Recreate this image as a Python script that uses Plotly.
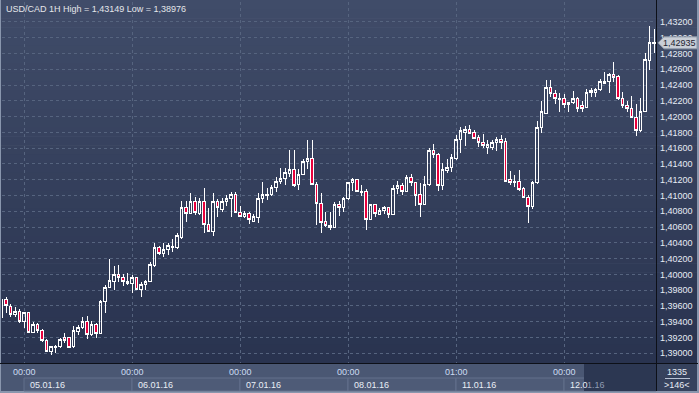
import plotly.graph_objects as go

# ---------------- data ----------------
title_text = "USD/CAD 1H High = 1,43149 Low = 1,38976"

open_ = [1.39448, 1.39688, 1.39587, 1.39498, 1.39524, 1.39397, 1.39511, 1.39270, 1.39371, 1.39295,
         1.39156, 1.39029, 1.39068, 1.39080, 1.39194, 1.39194, 1.39080, 1.39282, 1.39333, 1.39409,
         1.39232, 1.39359, 1.39253, 1.39651, 1.39840, 1.39916, 1.40005, 1.39955, 1.39916, 1.39891,
         1.39955, 1.39815, 1.39878, 1.39904, 1.40107, 1.40335, 1.40271, 1.40322, 1.40360, 1.40335,
         1.40474, 1.40842, 1.40778, 1.40918, 1.40778, 1.40930, 1.40627, 1.40550, 1.40918, 1.40829,
         1.40918, 1.40956, 1.41019, 1.40791, 1.40740, 1.40778, 1.40677, 1.40727, 1.40956, 1.40994,
         1.41019, 1.41100, 1.41172, 1.41210, 1.41285, 1.41336, 1.41134, 1.41268, 1.41437, 1.41475,
         1.41146, 1.40905, 1.40665, 1.40621, 1.40595, 1.40880, 1.40842, 1.40956, 1.41159, 1.41197,
         1.41057, 1.41045, 1.40702, 1.40880, 1.40765, 1.40804, 1.40842, 1.40765, 1.41083, 1.41121,
         1.41057, 1.41234, 1.41159, 1.41007, 1.40892, 1.41134, 1.41577, 1.41526, 1.41121, 1.41323,
         1.41353, 1.41463, 1.41704, 1.41805, 1.41843, 1.41805, 1.41735, 1.41666, 1.41615, 1.41615,
         1.41666, 1.41716, 1.41691, 1.41197, 1.41184, 1.41184, 1.41083, 1.40981, 1.40867, 1.41159,
         1.41868, 1.42046, 1.42363, 1.42299, 1.42223, 1.42236, 1.42160, 1.42173, 1.42236, 1.42135,
         1.42122, 1.42300, 1.42305, 1.42346, 1.42426, 1.42439, 1.42528, 1.42506, 1.42236, 1.42147,
         1.42109, 1.41995, 1.41830, 1.42071, 1.42709, 1.42925]
high = [1.39701, 1.39713, 1.39625, 1.39587, 1.39562, 1.39524, 1.39515, 1.39397, 1.39384, 1.39308,
        1.39181, 1.39093, 1.39106, 1.39194, 1.39257, 1.39206, 1.39346, 1.39359, 1.39460, 1.39473,
        1.39409, 1.39384, 1.39676, 1.39866, 1.40195, 1.40107, 1.40120, 1.40005, 1.40018, 1.39993,
        1.39967, 1.39904, 1.39929, 1.40158, 1.40398, 1.40360, 1.40398, 1.40398, 1.40449, 1.40525,
        1.40930, 1.40930, 1.41032, 1.40981, 1.40968, 1.41096, 1.40842, 1.41032, 1.40956, 1.40968,
        1.41007, 1.41045, 1.41045, 1.40867, 1.40804, 1.40791, 1.40765, 1.41032, 1.41172, 1.41096,
        1.41134, 1.41234, 1.41349, 1.41353, 1.41577, 1.41577, 1.41336, 1.41463, 1.41704, 1.41704,
        1.41172, 1.41032, 1.40791, 1.40791, 1.40918, 1.40930, 1.40981, 1.41172, 1.41222, 1.41210,
        1.41134, 1.41083, 1.40892, 1.40892, 1.40842, 1.40867, 1.40854, 1.41134, 1.41184, 1.41159,
        1.41260, 1.41272, 1.41172, 1.41159, 1.41247, 1.41602, 1.41653, 1.41538, 1.41412, 1.41463,
        1.41526, 1.41767, 1.41868, 1.41881, 1.41894, 1.41830, 1.41767, 1.41780, 1.41704, 1.41704,
        1.41741, 1.41767, 1.41729, 1.41310, 1.41260, 1.41323, 1.41108, 1.41007, 1.41184, 1.41944,
        1.42198, 1.42464, 1.42464, 1.42337, 1.42299, 1.42287, 1.42180, 1.42325, 1.42249, 1.42198,
        1.42350, 1.42363, 1.42368, 1.42477, 1.42566, 1.42553, 1.42692, 1.42528, 1.42312, 1.42198,
        1.42261, 1.42160, 1.42236, 1.42806, 1.43149, 1.43110]
low = [1.39409, 1.39511, 1.39460, 1.39460, 1.39384, 1.39321, 1.39257, 1.39257, 1.39253, 1.39144,
       1.39017, 1.38976, 1.39004, 1.39068, 1.39131, 1.39064, 1.39068, 1.39232, 1.39308, 1.39181,
       1.39219, 1.39194, 1.39245, 1.39511, 1.39827, 1.39802, 1.39904, 1.39853, 1.39866, 1.39764,
       1.39802, 1.39713, 1.39802, 1.39900, 1.40094, 1.40246, 1.40220, 1.40246, 1.40284, 1.40322,
       1.40449, 1.40665, 1.40765, 1.40753, 1.40753, 1.40525, 1.40538, 1.40487, 1.40728, 1.40791,
       1.40867, 1.40727, 1.40778, 1.40727, 1.40720, 1.40640, 1.40665, 1.40652, 1.40905, 1.40943,
       1.40994, 1.41045, 1.41146, 1.41134, 1.41234, 1.41108, 1.41070, 1.41260, 1.41336, 1.41134,
       1.40627, 1.40525, 1.40601, 1.40563, 1.40589, 1.40740, 1.40791, 1.40943, 1.41057, 1.41045,
       1.40994, 1.40563, 1.40690, 1.40727, 1.40753, 1.40765, 1.40715, 1.40753, 1.41019, 1.41007,
       1.41045, 1.41121, 1.40867, 1.40727, 1.40880, 1.41121, 1.41475, 1.41057, 1.41070, 1.41285,
       1.41298, 1.41450, 1.41538, 1.41628, 1.41780, 1.41716, 1.41615, 1.41602, 1.41526, 1.41577,
       1.41564, 1.41589, 1.41172, 1.41134, 1.41108, 1.41057, 1.40968, 1.40652, 1.40829, 1.41146,
       1.41792, 1.42033, 1.42249, 1.42160, 1.42059, 1.42109, 1.42059, 1.42160, 1.42059, 1.42059,
       1.42109, 1.42249, 1.42249, 1.42325, 1.42414, 1.42299, 1.42439, 1.42211, 1.42109, 1.42059,
       1.41983, 1.41754, 1.41805, 1.42059, 1.42591, 1.42802]
close = [1.39676, 1.39600, 1.39498, 1.39536, 1.39397, 1.39511, 1.39270, 1.39371, 1.39295, 1.39156,
         1.39029, 1.39080, 1.39080, 1.39169, 1.39156, 1.39068, 1.39295, 1.39321, 1.39397, 1.39232,
         1.39359, 1.39257, 1.39651, 1.39840, 1.39929, 1.40005, 1.39955, 1.39916, 1.39891, 1.39955,
         1.39815, 1.39878, 1.39916, 1.40120, 1.40335, 1.40271, 1.40322, 1.40372, 1.40335, 1.40487,
         1.40854, 1.40778, 1.40918, 1.40791, 1.40918, 1.40627, 1.40550, 1.40918, 1.40842, 1.40918,
         1.40956, 1.41019, 1.40791, 1.40740, 1.40778, 1.40690, 1.40740, 1.40956, 1.41019, 1.41019,
         1.41108, 1.41172, 1.41222, 1.41298, 1.41336, 1.41121, 1.41272, 1.41437, 1.41475, 1.41146,
         1.40905, 1.40652, 1.40621, 1.40595, 1.40880, 1.40842, 1.40968, 1.41159, 1.41197, 1.41057,
         1.41032, 1.40702, 1.40880, 1.40778, 1.40816, 1.40842, 1.40765, 1.41083, 1.41121, 1.41057,
         1.41234, 1.41159, 1.40994, 1.40892, 1.41146, 1.41577, 1.41526, 1.41121, 1.41336, 1.41361,
         1.41488, 1.41716, 1.41818, 1.41843, 1.41792, 1.41729, 1.41666, 1.41628, 1.41653, 1.41666,
         1.41716, 1.41678, 1.41184, 1.41159, 1.41159, 1.41070, 1.40981, 1.40867, 1.41159, 1.41868,
         1.42059, 1.42363, 1.42299, 1.42236, 1.42236, 1.42160, 1.42173, 1.42236, 1.42109, 1.42109,
         1.42312, 1.42325, 1.42350, 1.42439, 1.42439, 1.42528, 1.42502, 1.42236, 1.42135, 1.42109,
         1.41995, 1.41830, 1.42071, 1.42718, 1.42946, 1.42935]

bar_index = list(range(len(close)))

grid_index = [5, 29, 53, 77, 101, 125]
grid_time = ["00:00", "00:00", "00:00", "00:00", "01:00", "00:00"]
date_labels = ["05.01.16", "06.01.16", "07.01.16", "08.01.16", "11.01.16", "12.01.16"]

y_ticks = [1.390, 1.392, 1.394, 1.396, 1.398, 1.400, 1.402, 1.404, 1.406, 1.408, 1.410,
           1.412, 1.414, 1.416, 1.418, 1.420, 1.422, 1.424, 1.426, 1.428, 1.430, 1.432]
y_tick_text = [f"{v:.5f}".replace(".", ",") for v in y_ticks]

counter_top = "1335"
counter_bottom = ">146<"

# ---------------- layout helpers ----------------
W, H = 699, 393
ML, MR, MT, MB = 2, 43, 2, 30
PW = W - ML - MR
PH = H - MT - MB
X_RANGE = [0.11, 145.44]
Y_RANGE = [1.38877, 1.43453]
FONT = "Liberation Sans, Arial, sans-serif"


def px(x):
    return (x - ML) / PW


def py(y):
    return (H - MB - y) / PH


def xi_px(i):
    return ML + (i - X_RANGE[0]) / (X_RANGE[1] - X_RANGE[0]) * PW


def hexc(c):
    return "#%02x%02x%02x" % tuple(int(round(v)) for v in c)


shapes = []


def rect(x0, y0, x1, y1, fill, line=None, lw=0, layer="below"):
    shapes.append(dict(type="rect", xref="paper", yref="paper",
                       x0=px(x0), x1=px(x1), y0=py(y1), y1=py(y0),
                       fillcolor=fill, layer=layer,
                       line=dict(width=lw, color=line or fill)))


def hline(x0, x1, y, color, w=1, layer="below"):
    shapes.append(dict(type="line", xref="paper", yref="paper",
                       x0=px(x0), x1=px(x1), y0=py(y), y1=py(y),
                       line=dict(color=color, width=w), layer=layer))


def vline(x, y0, y1, color, w=1, layer="below"):
    shapes.append(dict(type="line", xref="paper", yref="paper",
                       x0=px(x), x1=px(x), y0=py(y0), y1=py(y1),
                       line=dict(color=color, width=w), layer=layer))


# gradient background of chart + price panel
top_c = (0x40, 0x4c, 0x69)
bot_c = (0x29, 0x33, 0x4f)
nb = 40
for k in range(nb):
    t = (k + 0.5) / nb
    col = hexc([top_c[j] + (bot_c[j] - top_c[j]) * t for j in range(3)])
    y0 = 363 * k / nb
    y1 = 363 * (k + 1) / nb + 0.6
    rect(1, y0, 697, y1, col)

# time axis strip
rect(1, 364, 656, 391, "#4a5773")
# counter box
rect(657, 364, 697, 391, "#36425d")
# date boxes
edges = [xi_px(i) for i in grid_index] + [656]
for k in range(len(grid_index)):
    rect(edges[k], 378, edges[k + 1], 391, "#4e5b77", line="#63718c", lw=1)
# dark scroll region
rect(584, 364, 656, 391, "#2c3752")
# separators
hline(0, 698, 363.5, "#0d1018", 1)
vline(656.5, 0, 391, "#0d1018", 1)
hline(665, 690, 378.5, "#b8c2d4", 1)

annotations = [
    dict(text=title_text, xref="paper", yref="paper", x=px(4), y=py(9),
         xanchor="left", yanchor="middle", showarrow=False,
         font=dict(family=FONT, size=9, color="#e4e6ea")),
    dict(text=counter_top, xref="paper", yref="paper", x=px(677.5), y=py(372),
         xanchor="center", yanchor="middle", showarrow=False,
         font=dict(family=FONT, size=9, color="#e8edf5")),
    dict(text=counter_bottom, xref="paper", yref="paper", x=px(677.5), y=py(385),
         xanchor="center", yanchor="middle", showarrow=False,
         font=dict(family=FONT, size=9, color="#e8edf5")),
]
for k, i in enumerate(grid_index):
    annotations.append(dict(text=grid_time[k], xref="x", yref="paper", x=i, y=py(372),
                            xanchor="center", yanchor="middle", showarrow=False,
                            font=dict(family=FONT, size=9, color="#cddcf2")))
for k in range(len(grid_index) - 1):
    annotations.append(dict(text=date_labels[k], xref="paper", yref="paper",
                            x=px(edges[k] + 4), y=py(385), xanchor="left", yanchor="middle",
                            showarrow=False, font=dict(family=FONT, size=9, color="#e9eef6")))
# last date label, partly under the dark region
last_lbl = date_labels[-1]
annotations.append(dict(text=last_lbl[:4], xref="paper", yref="paper",
                        x=px(edges[-2] + 4), y=py(385), xanchor="left", yanchor="middle",
                        showarrow=False, font=dict(family=FONT, size=9, color="#e9eef6")))
annotations.append(dict(text=last_lbl[4:], xref="paper", yref="paper",
                        x=px(584.5), y=py(385), xanchor="left", yanchor="middle",
                        showarrow=False, font=dict(family=FONT, size=9, color="#8f9bb2")))

# last price marker
last = close[-1]
hh = 6 * (Y_RANGE[1] - Y_RANGE[0]) / PH
path = (f"M {px(658)},{last} L {px(664)},{last + hh} L {px(697)},{last + hh} "
        f"L {px(697)},{last - hh} L {px(664)},{last - hh} Z")
shapes.append(dict(type="path", xref="paper", yref="y", path=path,
                   fillcolor="#c9ced7", line=dict(color="#8e98a8", width=1), layer="above"))
annotations.append(dict(text=f"{last:.5f}".replace(".", ","), xref="paper", yref="y",
                        x=px(679), y=last, xanchor="center", yanchor="middle", showarrow=False,
                        font=dict(family=FONT, size=9, color="#1d2330")))

fig = go.Figure(go.Candlestick(
    x=bar_index, open=open_, high=high, low=low, close=close,
    increasing=dict(line=dict(color="#ffffff", width=1), fillcolor="rgba(0,0,0,0)"),
    decreasing=dict(line=dict(color="#ffffff", width=1), fillcolor="#e8003c"),
    whiskerwidth=0, hoverinfo="skip", showlegend=False,
))

grid_col = "#56647f"
fig.update_layout(
    width=W, height=H, autosize=False,
    margin=dict(l=ML, r=MR, t=MT, b=MB, pad=0),
    paper_bgcolor="#8996ad", plot_bgcolor="rgba(0,0,0,0)",
    boxgap=0.3,
    showlegend=False, hovermode=False, dragmode=False,
    shapes=shapes, annotations=annotations,
    xaxis=dict(range=X_RANGE, tickvals=grid_index, showticklabels=False, ticks="",
               showgrid=True, gridcolor=grid_col, griddash="3px,3px", gridwidth=1,
               zeroline=False, showline=False, rangeslider=dict(visible=False), fixedrange=True),
    yaxis=dict(range=Y_RANGE, side="right", tickvals=y_ticks, ticktext=y_tick_text, ticks="",
               tickfont=dict(family=FONT, size=9, color="#e6ecf5"), ticklabelstandoff=3,
               showgrid=True, gridcolor=grid_col, griddash="3px,3px", gridwidth=1,
               zeroline=False, showline=False, fixedrange=True),
)

post = ("document.body.style.margin='0';document.body.style.overflow='hidden';"
        "document.querySelectorAll('.boxlayer path').forEach(function(p){"
        "p.style.shapeRendering='crispEdges';});")
fig.write_html("out.html", config={"displayModeBar": False, "staticPlot": True},
               post_script=post)
